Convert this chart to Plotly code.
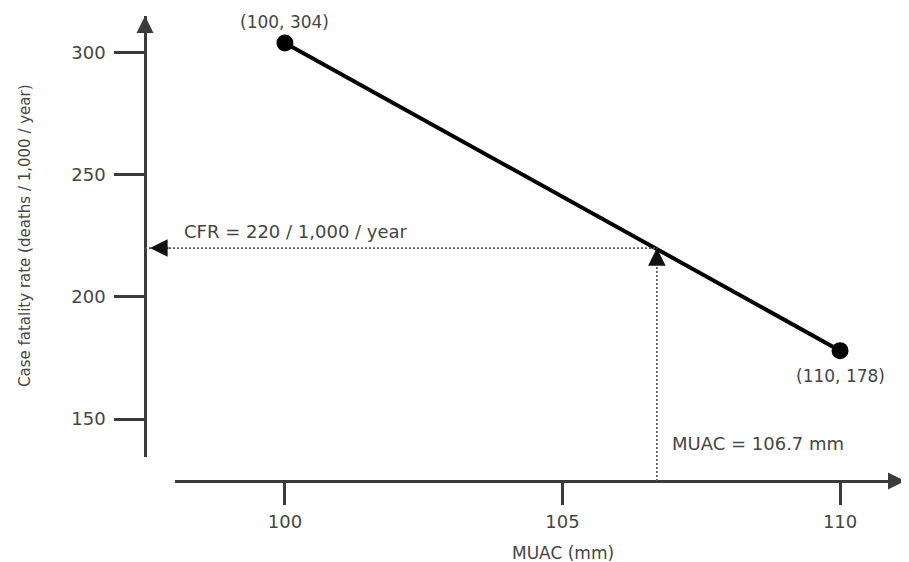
import plotly.graph_objects as go

# ---- data ----
muac_points = [100, 110]          # MUAC (mm)
cfr_points = [304, 178]           # case fatality rate (deaths / 1,000 / year)
muac_value = 106.7                # read-off MUAC
cfr_value = 220                   # read-off CFR
x_ticks = [100, 105, 110]
y_ticks = [150, 200, 250, 300]

# ---- display / layout parameters ----
FONT = "DejaVu Sans"
TXT = "#454545"
AX = "#3a3a3a"

OFF = 8                      # page body margin of the html page
W, H = 909 - OFF, 562 - OFF
PL, PR, PT, PB = 145, 905, 16, 481      # plot area in page pixels
ml, mr, mt, mb = PL - OFF, W - (PR - OFF), PT - OFF, H - (PB - OFF)
pw, ph = PR - PL, PB - PT

x_dom0 = 30 / pw           # x axis line starts a bit right of y axis
y_dom0 = 24 / ph           # y axis line ends a bit above x axis
x_rng = [98.02, 111.17]
y_rng = [134.44, 315.03]
# auxiliary full-domain axes sharing the same scale
x_aux0 = x_rng[0] - x_dom0 * (x_rng[1] - x_rng[0]) / (1 - x_dom0)
y_aux0 = y_rng[0] - y_dom0 * (y_rng[1] - y_rng[0]) / (1 - y_dom0)


def px_x(p):
    return (p - PL) / pw


def px_y(p):
    return (PB - p) / ph


fig = go.Figure()

# dotted guide lines (auxiliary axes, full plot area)
fig.add_trace(go.Scatter(
    x=[x_aux0, muac_value], y=[cfr_value, cfr_value], mode="lines",
    line=dict(color="#5a5a5a", width=1.7, dash="2px,2px"),
    xaxis="x2", yaxis="y2", hoverinfo="skip", showlegend=False))
fig.add_trace(go.Scatter(
    x=[muac_value, muac_value], y=[y_aux0, cfr_value], mode="lines",
    line=dict(color="#5a5a5a", width=1.7, dash="2px,2px"),
    xaxis="x2", yaxis="y2", hoverinfo="skip", showlegend=False))

# main line with end points
fig.add_trace(go.Scatter(
    x=muac_points, y=cfr_points, mode="lines+markers",
    line=dict(color="#000000", width=4),
    marker=dict(size=17, color="#000000"),
    cliponaxis=False, showlegend=False))

annotations = []
# point labels
for xv, yv, shift in zip(muac_points, cfr_points, [21, -25]):
    annotations.append(dict(
        x=xv, y=yv, xref="x", yref="y", text=f"({xv}, {yv})", showarrow=False,
        yshift=shift, font=dict(family=FONT, size=17, color=TXT)))

# CFR label
annotations.append(dict(
    x=px_x(182), y=cfr_value, xref="paper", yref="y2",
    text=f"CFR = {cfr_value} / 1,000 / year", showarrow=False,
    xanchor="left", yanchor="middle", yshift=17,
    font=dict(family=FONT, size=18, color=TXT)))
# MUAC label
annotations.append(dict(
    x=muac_value, y=px_y(443), xref="x2", yref="paper",
    text=f"MUAC = {muac_value} mm", showarrow=False,
    xanchor="left", yanchor="middle", xshift=13,
    font=dict(family=FONT, size=18, color=TXT)))

# arrowheads
arrow_common = dict(text="", showarrow=True, arrowhead=2, arrowcolor="#111111")
annotations.append(dict(x=0, y=1, xref="paper", yref="paper", ax=0, ay=18,
                        arrowwidth=2, arrowsize=1.7,
                        **{**arrow_common, "arrowcolor": AX}))
annotations.append(dict(x=1, y=0, xref="paper", yref="paper", ax=-18, ay=0,
                        arrowwidth=2, arrowsize=1.7,
                        **{**arrow_common, "arrowcolor": AX}))
annotations.append(dict(x=px_x(150), y=cfr_value, xref="paper", yref="y2",
                        ax=20, ay=0, arrowwidth=1.6, arrowsize=2.2,
                        **arrow_common))
annotations.append(dict(x=muac_value, y=cfr_value, xref="x2", yref="y2",
                        ax=0, ay=18, arrowwidth=1.6, arrowsize=2.2,
                        **arrow_common))

# axis titles
annotations.append(dict(
    x=px_x(25), y=px_y(236), xref="paper", yref="paper",
    text="Case fatality rate (deaths / 1,000 / year)", textangle=-90,
    showarrow=False, xanchor="center", yanchor="middle",
    font=dict(family=FONT, size=15, color=TXT)))
annotations.append(dict(
    x=px_x(563), y=px_y(553), xref="paper", yref="paper",
    text="MUAC (mm)", showarrow=False, xanchor="center", yanchor="middle",
    font=dict(family=FONT, size=17, color=TXT)))

fig.update_layout(
    width=W, height=H,
    margin=dict(l=ml, r=mr, t=mt, b=mb),
    paper_bgcolor="white", plot_bgcolor="rgba(0,0,0,0)",
    showlegend=False,
    xaxis=dict(domain=[x_dom0, 1], range=x_rng, anchor="free", position=0,
               showgrid=False, zeroline=False, showline=True, linecolor=AX,
               linewidth=2.5, ticks="outside", ticklen=22, tickwidth=2.5,
               tickcolor=AX, tickvals=x_ticks, ticklabelstandoff=2,
               tickfont=dict(family=FONT, size=18, color=TXT), fixedrange=True),
    yaxis=dict(domain=[y_dom0, 1], range=y_rng, anchor="free", position=0,
               showgrid=False, zeroline=False, showline=True, linecolor=AX,
               linewidth=2.5, ticks="outside", ticklen=30, tickwidth=2.5,
               tickcolor=AX, tickvals=y_ticks, ticklabelstandoff=5,
               tickfont=dict(family=FONT, size=18, color=TXT), fixedrange=True),
    xaxis2=dict(domain=[0, 1], range=[x_aux0, x_rng[1]], anchor="y2",
                visible=False, fixedrange=True),
    yaxis2=dict(domain=[0, 1], range=[y_aux0, y_rng[1]], anchor="x2",
                visible=False, fixedrange=True),
    annotations=annotations,
)

fig.write_html("out.html")
